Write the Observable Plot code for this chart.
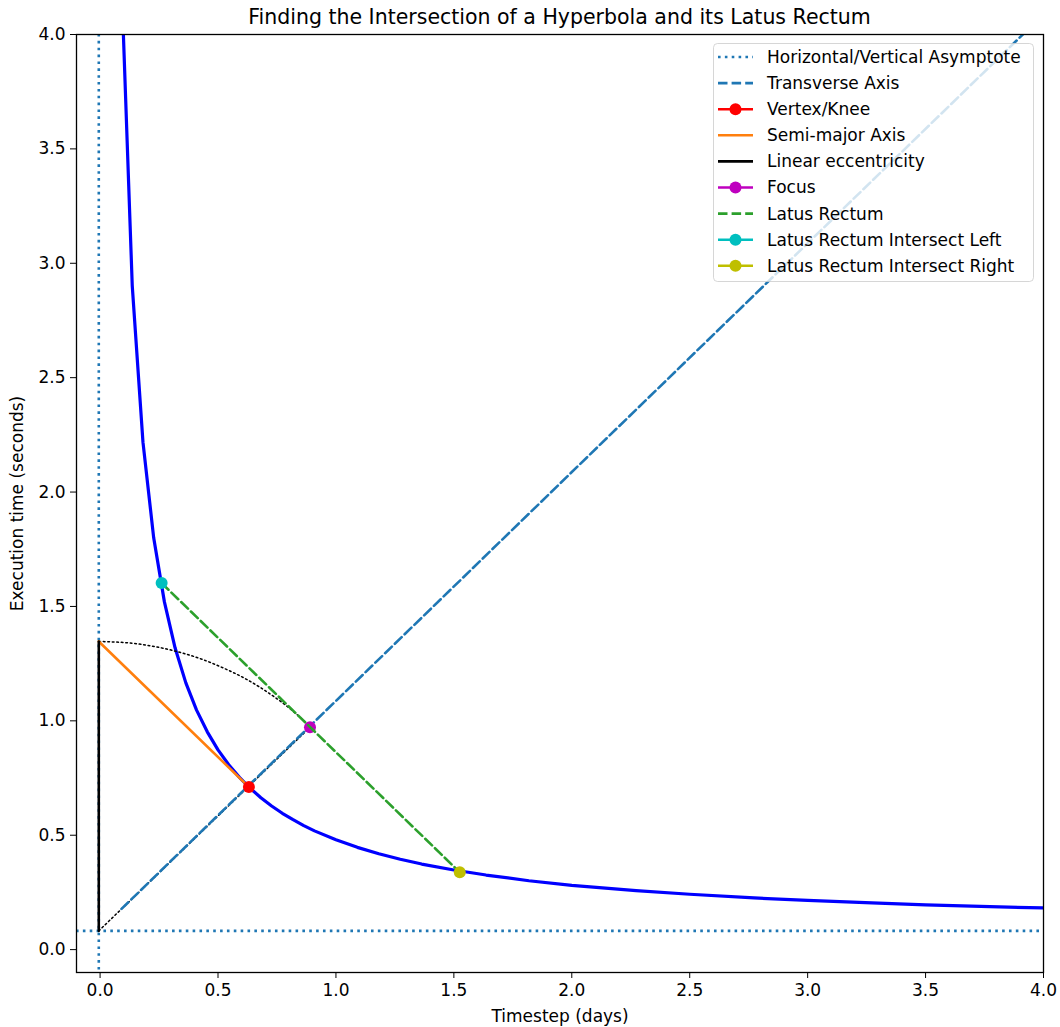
<!DOCTYPE html>
<html><head><meta charset="utf-8">
<script src="https://cdn.jsdelivr.net/npm/d3@7"></script>
<script src="https://cdn.jsdelivr.net/npm/@observablehq/plot@0.6"></script>
<style>
body{margin:0;background:#fff;font-family:"DejaVu Sans",sans-serif;}
#title{box-sizing:border-box;width:1060px;height:30px;padding:4px 17px 0 76px;text-align:center;font-size:20.5px;line-height:26px;color:#000;white-space:nowrap;}
#chart svg{overflow:visible;display:block;}
</style></head><body>
<div id="title">Finding the Intersection of a Hyperbola and its Latus Rectum</div>
<div id="chart"></div>
<script>
// ---- data ----
const curveX = [0.0909,0.1364,0.1818,0.2273,0.2727,0.3182,0.3636,0.4091,0.4545,0.5000,0.5455,0.5909,0.6364,0.6818,0.7273,0.7727,0.8182,0.8636,0.9091,1.0000,1.0909,1.1818,1.2727,1.3636,1.5000,1.6364,1.8182,2.0000,2.2727,2.5000,2.7727,3.0000,3.2727,3.5000,3.7727,4.0000];
const curveY = [4.231,2.901,2.218,1.800,1.520,1.318,1.166,1.047,0.952,0.873,0.808,0.753,0.705,0.664,0.628,0.596,0.568,0.542,0.519,0.480,0.447,0.419,0.395,0.374,0.348,0.326,0.301,0.281,0.258,0.242,0.226,0.215,0.204,0.196,0.188,0.182];
const asymptote = {x: -0.0055, y: 0.082};          // centre of the hyperbola
const transverseX = [0.0909, 4.0];
const transverseY = [0.178, 4.0875];
const vertex = {x: 0.631, y: 0.711};
const eccTop = {x: -0.0055, y: 1.347};
const focus = {x: 0.890, y: 0.972};
const latusLeft = {x: 0.261, y: 1.602};
const latusRight = {x: 1.525, y: 0.338};
const arcX = [-0.0055,0.105,0.214,0.322,0.427,0.529,0.627,0.720,0.808,0.889];
const arcY = [1.347,1.342,1.328,1.304,1.271,1.228,1.178,1.118,1.051,0.976];
const xTicks = [0,0.5,1,1.5,2,2.5,3,3.5,4];
const yTicks = [0,0.5,1,1.5,2,2.5,3,3.5,4];
const legendLabels = ["Horizontal/Vertical Asymptote","Transverse Axis","Vertex/Knee","Semi-major Axis","Linear eccentricity","Focus","Latus Rectum","Latus Rectum Intersect Left","Latus Rectum Intersect Right"];
const legendColors = ["#1f77b4","#1f77b4","#ff0000","#ff7f0e","#000000","#bf00bf","#2ca02c","#00bfbf","#bfbf00"];
const legendDash = ["dot","dash",null,null,null,null,"dash",null,null];
const legendMarker = [false,false,true,false,false,true,false,true,true];

// ---- derived tables ----
const curve = curveX.map((x,i)=>({x, y: curveY[i]}));
const transverse = transverseX.map((x,i)=>({x, y: transverseY[i]}));
const arc = arcX.map((x,i)=>({x, y: arcY[i]}));
const DOT = "2.6,4.26", DASH = "9.5,4.1", FINEDOT = "1.7,2.8";
const fmt = d3.format(".1f");

const chart = Plot.plot({
  width: 1060, height: 997,
  marginTop: 4, marginRight: 17, marginBottom: 55, marginLeft: 76,
  x: {domain: [-0.1, 4]},
  y: {domain: [-0.1, 4]},
  style: {fontFamily: "DejaVu Sans", fontSize: "17px", color: "#000", background: "#fff"},
  marks: [
    Plot.axisX({ticks: xTicks, tickFormat: fmt, tickSize: 6, tickPadding: 5, label: "Timestep (days)", labelAnchor: "center", labelArrow: "none", labelOffset: 49}),
    Plot.axisY({ticks: yTicks, tickFormat: fmt, tickSize: 6, tickPadding: 5, label: "Execution time (seconds)", labelAnchor: "center", labelArrow: "none", labelOffset: 66}),
    Plot.line(curve, {x: "x", y: "y", stroke: "#0000ff", strokeWidth: 3.2, clip: true}),
    Plot.ruleX([asymptote], {x: "x", stroke: "#1f77b4", strokeWidth: 2.6, strokeDasharray: DOT}),
    Plot.ruleY([asymptote], {y: "y", stroke: "#1f77b4", strokeWidth: 2.6, strokeDasharray: DOT}),
    Plot.line([asymptote, focus], {x: "x", y: "y", stroke: "#000", strokeWidth: 1.5, strokeDasharray: FINEDOT}),
    Plot.line(arc, {x: "x", y: "y", stroke: "#000", strokeWidth: 1.5, strokeDasharray: FINEDOT, curve: "natural"}),
    Plot.line(transverse, {x: "x", y: "y", stroke: "#1f77b4", strokeWidth: 2.6, strokeDasharray: DASH, clip: true}),
    Plot.line([eccTop, vertex], {x: "x", y: "y", stroke: "#ff7f0e", strokeWidth: 2.6}),
    Plot.line([asymptote, eccTop], {x: "x", y: "y", stroke: "#000", strokeWidth: 2.6}),
    Plot.dot([vertex], {x: "x", y: "y", r: 6, fill: "#ff0000"}),
    Plot.dot([focus], {x: "x", y: "y", r: 6, fill: "#bf00bf"}),
    Plot.line([latusLeft, latusRight], {x: "x", y: "y", stroke: "#2ca02c", strokeWidth: 2.6, strokeDasharray: DASH}),
    Plot.dot([latusLeft], {x: "x", y: "y", r: 6, fill: "#00bfbf"}),
    Plot.dot([latusRight], {x: "x", y: "y", r: 6, fill: "#bfbf00"}),
    Plot.frame({stroke: "#000", strokeWidth: 1.3})
  ]
});
document.getElementById("chart").appendChild(chart);

// ---- legend (upper right, semi-transparent box) ----
const svg = d3.select(chart);
const lg = svg.append("g").attr("font-family", "DejaVu Sans").attr("font-size", 17).attr("text-anchor", "start");
lg.append("rect").attr("x", 713.5).attr("y", 13.5).attr("width", 320).attr("height", 238).attr("rx", 4)
  .attr("fill", "#fff").attr("fill-opacity", 0.8).attr("stroke", "#cccccc").attr("stroke-opacity", 0.8);
legendLabels.forEach((label, i) => {
  const cy = 27 + i * 26.1;
  const g = lg.append("g");
  g.append("line").attr("x1", 718).attr("x2", 753).attr("y1", cy).attr("y2", cy)
    .attr("stroke", legendColors[i]).attr("stroke-width", 2.6)
    .attr("stroke-dasharray", legendDash[i] === "dot" ? DOT : legendDash[i] === "dash" ? DASH : null);
  if (legendMarker[i]) g.append("circle").attr("cx", 735.5).attr("cy", cy).attr("r", 6).attr("fill", legendColors[i]);
  g.append("text").attr("x", 767).attr("y", cy).attr("dy", "0.35em").attr("text-anchor", "start").attr("fill", "#000").text(label);
});
</script>
</body></html>
